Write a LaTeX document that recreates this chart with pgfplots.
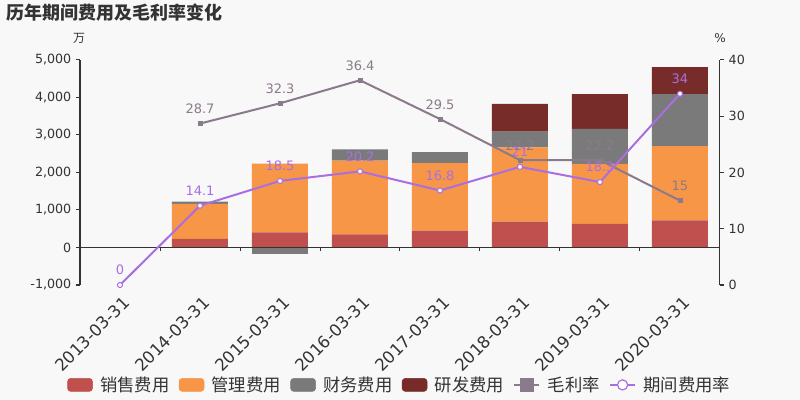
\documentclass[border=0pt]{standalone}
\usepackage{pgfplots}
\pgfplotsset{compat=1.18}
\usepackage{fontspec}
\setmainfont{DejaVu Sans}
\newfontfamily\cjk{Noto Sans CJK SC}
\definecolor{bg}{HTML}{F8F8F8}
\definecolor{txt}{HTML}{333333}
\definecolor{axisc}{HTML}{333333}
\definecolor{c1}{HTML}{C0504D}
\definecolor{c2}{HTML}{F79646}
\definecolor{c3}{HTML}{7A7A7A}
\definecolor{c4}{HTML}{772C2A}
\definecolor{c5}{HTML}{8B7A8B}
\definecolor{c6}{HTML}{A96FE2}
\begin{document}
\begin{tikzpicture}
\fill[bg] (0,0) rectangle (600pt,300pt);
\path[use as bounding box] (0,0) rectangle (600pt,300pt);
\node[anchor=base west, inner sep=0pt, text=txt, font=\cjk\bfseries\fontsize{13.5}{15}\selectfont] at (4.5pt,285.4pt) {历年期间费用及毛利率变化};
\node[inner sep=0pt, text=txt, font=\cjk\fontsize{9}{10}\selectfont] at (59.25pt,271.5pt) {万};
\node[inner sep=0pt, text=txt, font=\fontsize{9}{10}\selectfont] at (540pt,271.5pt) {\%};

% bars (left axis)
\begin{axis}[
  at={(60pt,86.25pt)}, anchor=south west, scale only axis,
  width=480pt, height=168.75pt,
  xmin=-0.5, xmax=7.5, ymin=-1000, ymax=5000, enlargelimits=false,
  ybar stacked, bar width=42pt,
  axis lines*=left, axis line style={-, axisc, line width=0.75pt},
  x axis line style={draw=none},
  xtick={0,1,2,3,4,5,6,7},
  xticklabels={2013-03-31,2014-03-31,2015-03-31,2016-03-31,2017-03-31,2018-03-31,2019-03-31,2020-03-31},
  xtick style={draw=none},
  ytick={-1000,0,1000,2000,3000,4000,5000},
  ytick style={axisc, line width=0.75pt},
  tick align=outside, major tick length=3pt,
  yticklabel style={font=\fontsize{9.5}{11}\selectfont, text=txt, /pgf/number format/assume math mode=true, /pgf/number format/1000 sep={,}},
  xticklabel style={font=\fontsize{12.5}{14}\selectfont, text=txt, inner sep=0pt, xshift=1.5pt, yshift=-4.5pt, rotate=45, anchor=north east},
]
\addplot[fill=c1, draw=none] coordinates {(0,0) (1,230) (2,400) (3,350) (4,450) (5,690) (6,630) (7,720)};
\addplot[fill=c2, draw=none] coordinates {(0,0) (1,930) (2,1835) (3,1965) (4,1800) (5,1980) (6,1600) (7,1980)};
\addplot[fill=c3, draw=none] coordinates {(0,0) (1,60) (2,0) (3,300) (4,290) (5,420) (6,930) (7,1390)};
\addplot[fill=c4, draw=none] coordinates {(0,0) (1,0) (2,0) (3,0) (4,0) (5,740) (6,930) (7,720)};
\end{axis}

% negative part (stacked separately below zero)
\begin{axis}[
  at={(60pt,86.25pt)}, anchor=south west, scale only axis,
  width=480pt, height=168.75pt,
  xmin=-0.5, xmax=7.5, ymin=-1000, ymax=5000, enlargelimits=false,
  ybar, bar width=42pt, axis lines=none, clip=false,
]
\addplot[fill=c3, draw=none] coordinates {(2,-170)};
\draw[axisc, line width=0.75pt] (axis cs:-0.5,0) -- (axis cs:7.5,0);
\pgfplotsinvokeforeach{-0.5,0.5,1.5,2.5,3.5,4.5,5.5,6.5,7.5}{
  \draw[axisc, line width=0.75pt] (axis cs:#1,0) -- ([yshift=-3pt]axis cs:#1,0);
}
\end{axis}

% lines (right axis)
\begin{axis}[
  at={(60pt,86.25pt)}, anchor=south west, scale only axis,
  width=480pt, height=168.75pt,
  xmin=-0.5, xmax=7.5, ymin=0, ymax=40, enlargelimits=false, clip=false,
  axis x line=none, axis y line*=right, axis line style={-, axisc, line width=0.75pt},
  ytick={0,10,20,30,40},
  ytick style={axisc, line width=0.75pt},
  tick align=outside, major tick length=3pt,
  yticklabel style={font=\fontsize{9.5}{11}\selectfont, text=txt, /pgf/number format/assume math mode=true},
  legend columns=6,
  legend style={at={(0.5,-0.444)}, anchor=center, draw=none, fill=none,
    font=\cjk\fontsize{13}{14}\selectfont, text=txt,
    /tikz/every odd column/.append style={column sep=3.5pt},
    /tikz/every even column/.append style={column sep=5pt}},
]
\addlegendimage{legend image code/.code={\fill[c1,rounded corners=2.5pt] (0pt,-4.9pt) rectangle (18.75pt,4.9pt);}}
\addlegendentry{销售费用}
\addlegendimage{legend image code/.code={\fill[c2,rounded corners=2.5pt] (0pt,-4.9pt) rectangle (18.75pt,4.9pt);}}
\addlegendentry{管理费用}
\addlegendimage{legend image code/.code={\fill[c3,rounded corners=2.5pt] (0pt,-4.9pt) rectangle (18.75pt,4.9pt);}}
\addlegendentry{财务费用}
\addlegendimage{legend image code/.code={\fill[c4,rounded corners=2.5pt] (0pt,-4.9pt) rectangle (18.75pt,4.9pt);}}
\addlegendentry{研发费用}
\addplot[c5, line width=1.5pt, mark=square*, mark size=1.6pt, mark options={fill=c5, draw=c5, line width=0.5pt},
  nodes near coords, point meta=explicit symbolic,
  nodes near coords style={font=\fontsize{9.75}{11}\selectfont, text=c5, anchor=south, yshift=3.7pt},
  legend image code/.code={\draw[c5,line width=1.5pt] (0pt,0pt) -- (18.75pt,0pt); \fill[c5] (4.9pt,-4.5pt) rectangle (13.9pt,4.5pt);}]
  coordinates {(1,28.7)[28.7] (2,32.3)[32.3] (3,36.4)[36.4] (4,29.5)[29.5] (5,22.2)[22.2] (6,22.2)[22.2] (7,15)[15]};
\addlegendentry{毛利率}
\addplot[c6, line width=1.5pt, mark=*, mark size=1.9pt, mark options={fill=white, draw=c6, line width=0.75pt},
  nodes near coords, point meta=explicit symbolic,
  nodes near coords style={font=\fontsize{9.75}{11}\selectfont, text=c6, anchor=south, yshift=3.7pt},
  legend image code/.code={\draw[c6,line width=1.5pt] (0pt,0pt) -- (18.75pt,0pt); \draw[c6,fill=white,line width=0.9pt] (9.4pt,0pt) circle (3.8pt);}]
  coordinates {(0,0)[0] (1,14.1)[14.1] (2,18.5)[18.5] (3,20.2)[20.2] (4,16.8)[16.8] (5,21)[21] (6,18.3)[18.3] (7,34)[34]};
\addlegendentry{期间费用率}
\end{axis}
\end{tikzpicture}
\end{document}
